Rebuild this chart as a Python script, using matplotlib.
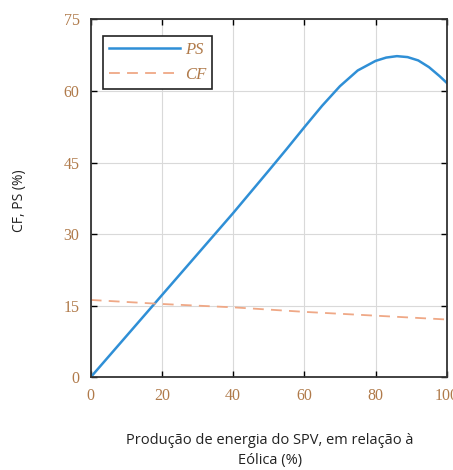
import matplotlib.pyplot as plt

# valores
spv = [0, 10, 20, 30, 40, 50, 55, 60, 65, 70, 75, 80, 83, 86, 89, 92, 95, 98, 100]
ps = [0, 8.6, 17.2, 25.8, 34.4, 43.3, 47.8, 52.4, 56.9, 61.0, 64.3, 66.3, 67.0, 67.3, 67.1, 66.4, 65.0, 63.1, 61.7]
cf_x = [0, 20, 40, 60, 80, 100]
cf = [16.2, 15.35, 14.65, 13.7, 12.9, 12.1]

x_ticks = [0, 20, 40, 60, 80, 100]
y_ticks = [0, 15, 30, 45, 60, 75]

tick_color = "#b07a4a"

fig = plt.figure(figsize=(4.53, 4.70), dpi=100)
ax = fig.add_axes([0.2002, 0.1974, 0.786, 0.7613])

ax.plot(spv, ps, color="#2f8fd6", lw=1.8, label="PS")
ax.plot(cf_x, cf, color="#efa886", lw=1.3, ls=(0, (6, 4)), label="CF")

ax.set_xlim(0, 100)
ax.set_ylim(0, 75)
ax.set_xticks(x_ticks)
ax.set_yticks(y_ticks)
ax.grid(True, color="#d9d9d9", lw=0.8)
ax.tick_params(direction="in", top=True, right=True, length=4, width=1,
               labelcolor=tick_color, labelsize=11.5, pad=8)
for lab in ax.get_xticklabels() + ax.get_yticklabels():
    lab.set_family("Liberation Serif")
for s in ax.spines.values():
    s.set_linewidth(1.3)
    s.set_color("#333333")

leg = ax.legend(loc="upper left", bbox_to_anchor=(0.0345, 0.9536), handlelength=4.3,
                prop={"family": "Liberation Serif", "style": "italic", "size": 12},
                fancybox=False, framealpha=1, edgecolor="#222222",
                borderpad=0.35, labelspacing=0.55, handletextpad=0.25,
                borderaxespad=0)
leg.get_frame().set_linewidth(1.2)
for t in leg.get_texts():
    t.set_color(tick_color)

fig.text(0.596, 0.004, "Produção de energia do SPV, em relação à\nEólica (%)",
         ha="center", va="bottom", fontsize=10.5, family="Open Sans",
         color="#222222", linespacing=1.45)
fig.text(0.044, 0.574, "CF, PS (%)", rotation=90, ha="center", va="center",
         fontsize=10, family="Open Sans", color="#222222")

fig.savefig("out.png", dpi=100)
